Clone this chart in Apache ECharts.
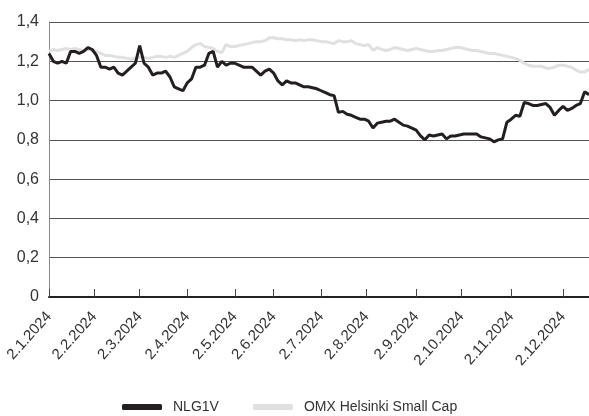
<!DOCTYPE html>
<html>
<head>
<meta charset="utf-8">
<script src="https://cdn.jsdelivr.net/npm/echarts@6/dist/echarts.min.js"></script>
<style>
  html, body { margin: 0; padding: 0; background: #fff; }
  #chart { width: 589px; height: 416px; }
</style>
</head>
<body>
<div id="chart"></div>
<script>
  // x = trading day of 2024, one value every second trading day
  const step = 2
  const tickPos = [0, 21, 42, 64, 86, 104, 126, 147, 170, 191, 214, 238]
  const tickLabels = ['2.1.2024', '2.2.2024', '2.3.2024', '2.4.2024', '2.5.2024', '2.6.2024',
    '2.7.2024', '2.8.2024', '2.9.2024', '2.10.2024', '2.11.2024', '2.12.2024']

  // NLG1V
  const nlg = [
    1.24, 1.20, 1.19, 1.20, 1.19, 1.25, 1.25, 1.24, 1.25, 1.27,
    1.26, 1.23, 1.17, 1.17, 1.16, 1.17, 1.14, 1.13, 1.15, 1.17,
    1.19, 1.28, 1.19, 1.17, 1.13, 1.14, 1.14, 1.15, 1.12, 1.07,
    1.06, 1.05, 1.09, 1.11, 1.17, 1.17, 1.18, 1.24, 1.25, 1.17,
    1.20, 1.18, 1.19, 1.19, 1.18, 1.17, 1.17, 1.17, 1.15, 1.13,
    1.15, 1.16, 1.14, 1.10, 1.08, 1.10, 1.09, 1.09, 1.08, 1.07,
    1.07, 1.065, 1.06, 1.05, 1.04, 1.03, 1.025, 0.94, 0.945, 0.93,
    0.925, 0.915, 0.905, 0.905, 0.895, 0.86, 0.885, 0.89, 0.895, 0.895,
    0.905, 0.89, 0.875, 0.87, 0.86, 0.85, 0.82, 0.80, 0.825, 0.82,
    0.825, 0.83, 0.805, 0.82, 0.82, 0.825, 0.83, 0.83, 0.83, 0.83,
    0.815, 0.81, 0.805, 0.79, 0.80, 0.805, 0.89, 0.905, 0.925, 0.92,
    0.99, 0.985, 0.975, 0.975, 0.98, 0.985, 0.965, 0.925, 0.95, 0.97,
    0.95, 0.96, 0.975, 0.985, 1.045, 1.03
  ]

  // OMX Helsinki Small Cap
  const omx = [
    1.25, 1.26, 1.255, 1.26, 1.265, 1.26, 1.265, 1.26, 1.255, 1.26,
    1.255, 1.25, 1.24, 1.23, 1.23, 1.225, 1.22, 1.22, 1.215, 1.21,
    1.215, 1.22, 1.22, 1.215, 1.22, 1.225, 1.225, 1.22, 1.225, 1.22,
    1.23, 1.24, 1.25, 1.27, 1.285, 1.29, 1.275, 1.27, 1.265, 1.25,
    1.245, 1.285, 1.275, 1.275, 1.28, 1.285, 1.29, 1.295, 1.30, 1.30,
    1.305, 1.32, 1.32, 1.315, 1.315, 1.31, 1.31, 1.305, 1.31, 1.305,
    1.31, 1.31, 1.305, 1.30, 1.30, 1.295, 1.29, 1.305, 1.30, 1.30,
    1.305, 1.29, 1.285, 1.28, 1.285, 1.255, 1.27, 1.26, 1.255, 1.26,
    1.27, 1.265, 1.26, 1.255, 1.26, 1.265, 1.26, 1.255, 1.25, 1.25,
    1.255, 1.255, 1.26, 1.265, 1.27, 1.27, 1.265, 1.26, 1.255, 1.255,
    1.25, 1.245, 1.24, 1.24, 1.235, 1.23, 1.225, 1.22, 1.215, 1.205,
    1.19, 1.18, 1.175, 1.175, 1.175, 1.165, 1.165, 1.17, 1.18, 1.18,
    1.175, 1.17, 1.155, 1.145, 1.145, 1.16
  ]

  const font = 'Liberation Sans, Arial, sans-serif'
  const chart = echarts.init(document.getElementById('chart'))

  chart.setOption({
    animation: false,
    textStyle: { fontFamily: font },
    grid: { left: 49, right: 0, top: 22, bottom: 119 },
    legend: {
      bottom: 2,
      left: 122,
      padding: 0,
      itemWidth: 40,
      itemHeight: 6,
      itemGap: 34,
      icon: 'roundRect',
      textStyle: { fontFamily: font, fontSize: 14, color: '#333', padding: [0, 0, 0, 6] },
      data: ['NLG1V', 'OMX Helsinki Small Cap']
    },
    xAxis: {
      type: 'value',
      min: 0,
      max: (nlg.length - 1) * step,
      splitLine: { show: false },
      axisLine: { show: true, lineStyle: { color: '#222', width: 2 } },
      axisTick: {
        show: true,
        inside: true,
        length: 8,
        customValues: tickPos,
        lineStyle: { color: '#444', width: 1 }
      },
      axisLabel: {
        customValues: tickPos,
        rotate: 48,
        margin: 17,
        fontSize: 15,
        color: '#333',
        fontFamily: font,
        formatter: (val) => tickLabels[tickPos.indexOf(val)]
      }
    },
    yAxis: {
      type: 'value',
      min: 0,
      max: 1.4,
      interval: 0.2,
      axisLine: { show: true, lineStyle: { color: '#888', width: 1 } },
      axisTick: { show: false },
      splitLine: { show: true, lineStyle: { color: '#555', width: 1 } },
      axisLabel: {
        margin: 10,
        fontSize: 16,
        color: '#333',
        fontFamily: font,
        formatter: (v) => (v === 0 ? '0' : v.toFixed(1).replace('.', ','))
      }
    },
    series: [
      {
        name: 'NLG1V',
        type: 'line',
        z: 3,
        showSymbol: false,
        data: nlg.map((v, i) => [i * step, v]),
        lineStyle: { color: '#231f20', width: 3 },
        itemStyle: { color: '#231f20' }
      },
      {
        name: 'OMX Helsinki Small Cap',
        type: 'line',
        z: 2,
        showSymbol: false,
        data: omx.map((v, i) => [i * step, v]),
        lineStyle: { color: '#e0e0e0', width: 3 },
        itemStyle: { color: '#e0e0e0' }
      }
    ]
  })
</script>
</body>
</html>
